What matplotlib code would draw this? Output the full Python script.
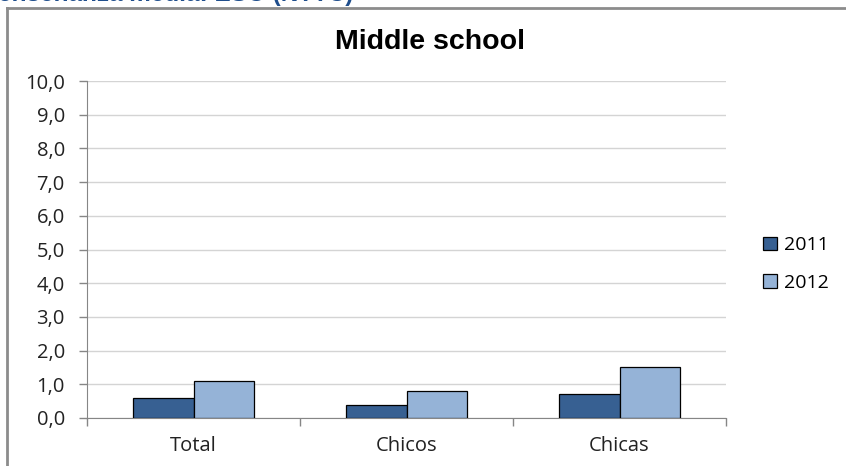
import matplotlib
matplotlib.use("Agg")
import matplotlib.pyplot as plt
from matplotlib.lines import Line2D
from matplotlib.patches import Patch
import numpy as np

categories = ["Total", "Chicos", "Chicas"]
series_names = ["2011", "2012"]
values_2011 = [0.6, 0.4, 0.7]
values_2012 = [1.1, 0.8, 1.5]
yticks = [0, 1, 2, 3, 4, 5, 6, 7, 8, 9, 10]
ytick_labels = ["0,0", "1,0", "2,0", "3,0", "4,0", "5,0", "6,0", "7,0", "8,0", "9,0", "10,0"]
title = "Middle school"
heading = "enseñanza media: ESO (NTTC)"

c2011 = "#376092"
c2012 = "#95b3d7"

fig = plt.figure(figsize=(8.46, 4.66), dpi=100)
W, H = 846, 466
ax = fig.add_axes([87 / W, 48 / H, (726 - 87) / W, (418 - 81) / H])

x = np.arange(len(categories))
bw = 0.286
ax.bar(x - bw / 2, values_2011, bw, color=c2011, edgecolor="black", linewidth=0.9, zorder=3)
ax.bar(x + bw / 2, values_2012, bw, color=c2012, edgecolor="black", linewidth=0.9, zorder=3)

ax.set_xlim(-0.5, len(categories) - 0.5)
ax.set_ylim(0, 10)
ax.set_yticks(yticks)
ax.set_yticklabels(ytick_labels, fontsize=14.5, color="#222222", family="Open Sans")
ax.set_xticks(x)
ax.set_xticklabels(categories, fontsize=14.5, color="#222222", family="Open Sans")
ax.set_xticks(np.arange(-0.5, len(categories)), minor=True)
ax.tick_params(axis="x", which="major", length=0, pad=13)
ax.tick_params(axis="x", which="minor", length=6, color="#868686", width=1)
ax.tick_params(axis="y", length=6, color="#868686", width=1, pad=10)
ax.yaxis.grid(True, color="#d4d4d4", linewidth=1, zorder=0)
ax.set_axisbelow(True)
for s in ["top", "right"]:
    ax.spines[s].set_visible(False)
ax.spines["left"].set_color("#868686")
ax.spines["bottom"].set_color("#868686")

fig.text(430 / W, 1 - 42 / H, title, ha="center", va="center", fontsize=20.5,
         fontweight="bold", family="Liberation Sans")

handles = [Patch(facecolor=c2011, edgecolor="black", linewidth=0.9),
           Patch(facecolor=c2012, edgecolor="black", linewidth=0.9)]
fig.legend(handles, series_names, loc="center left", bbox_to_anchor=(763 / W, 1 - 264 / H),
           frameon=False, prop={"family": "Open Sans", "size": 14},
           borderpad=0, borderaxespad=0,
           handlelength=0.7, handleheight=0.7, handletextpad=0.4, labelspacing=1.0)

# chart frame
fig.add_artist(Line2D([7 / W, 7 / W], [0, 1 - 8 / H], color="#8c8c8c", linewidth=2))
fig.add_artist(Line2D([7 / W, 1], [1 - 8 / H, 1 - 8 / H], color="#8c8c8c", linewidth=2))

fig.text(-2 / W, 1 - 6 / H, heading, ha="left", va="bottom", fontsize=17.5,
         fontweight="bold", color="#1f4e8c", family="Liberation Sans")

fig.savefig("out.png", dpi=100)
